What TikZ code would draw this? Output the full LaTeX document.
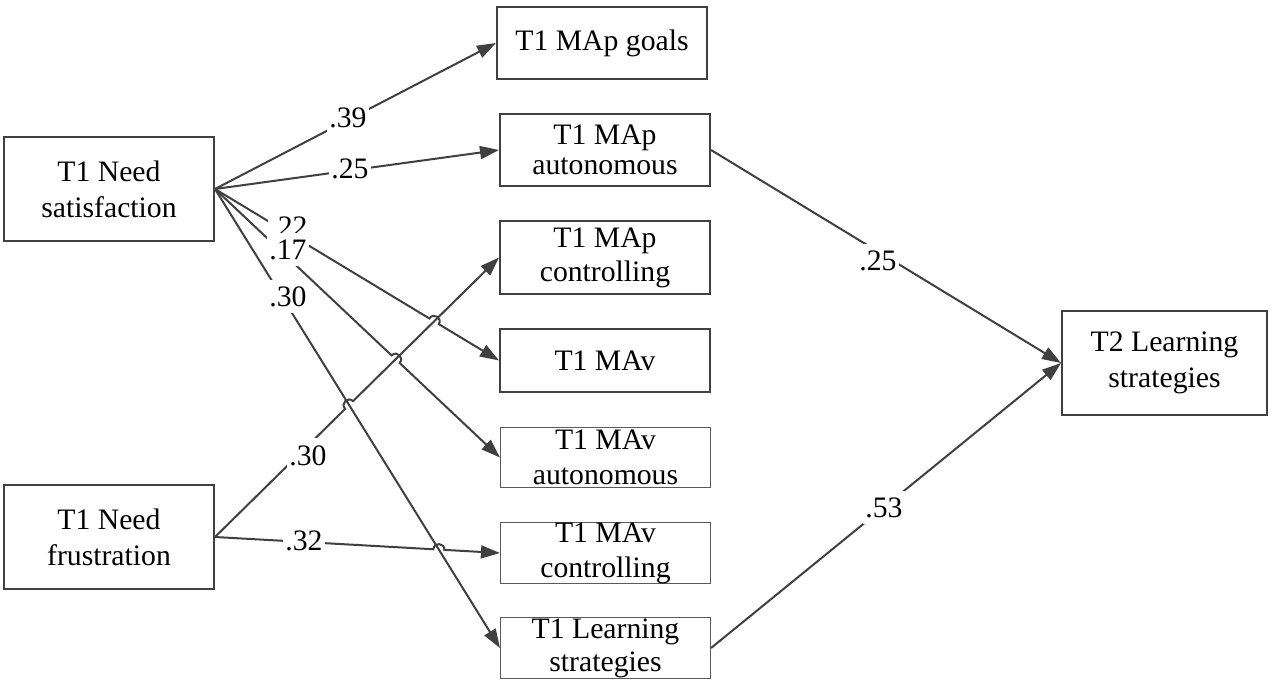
\documentclass[tikz,border=0pt]{standalone}
\usepackage{fontspec}
\setmainfont{Liberation Serif}
\usetikzlibrary{arrows.meta,calc,intersections}
\definecolor{ln}{HTML}{404040}
\definecolor{lnthin}{HTML}{5A5A5A}
\begin{document}
\begin{tikzpicture}[x=1pt,y=-1pt,
  box/.style={draw=ln, line width=2pt, fill=white, inner sep=0pt, align=center,
    font=\fontsize{29.7}{34}\selectfont},
  thinbox/.style={box, line width=1.1pt, draw=lnthin},
  arr/.style={draw=ln, line width=2pt, -{Triangle[length=19pt,width=13pt]}},
  lab/.style={fill=white, inner xsep=2pt, inner ysep=0pt, text height=26.5pt, text depth=6.5pt,
    font=\fontsize{29.7}{34}\selectfont}]
\useasboundingbox (0,0) rectangle (1272,684);

% boxes
\node[box, minimum width=210pt, minimum height=104pt, font=\fontsize{29.7}{36}\selectfont] (NS) at (109,189) {T1 Need\\satisfaction};
\node[box, minimum width=210pt, minimum height=104pt, font=\fontsize{29.7}{36}\selectfont] (NF) at (109,537) {T1 Need\\frustration};
\node[box, minimum width=210pt, minimum height=72pt] (MApG) at (602,43) {T1 MAp goals};
\node[box, minimum width=210pt, minimum height=72pt, font=\fontsize{29.7}{30}\selectfont] (MApA) at (605,150) {T1 MAp\\autonomous};
\node[box, minimum width=210pt, minimum height=73pt] (MApC) at (605,257.5) {T1 MAp\\controlling};
\node[box, minimum width=210pt, minimum height=63pt] (MAv) at (605,360.5) {T1 MAv};
\node[thinbox, minimum width=210pt, minimum height=60pt, font=\fontsize{29.7}{35}\selectfont] (MAvA) at (605.5,457.5) {T1 MAv\\autonomous};
\node[thinbox, minimum width=210pt, minimum height=61pt, font=\fontsize{29.7}{35}\selectfont] (MAvC) at (605.5,553) {T1 MAv\\controlling};
\node[thinbox, minimum width=210pt, minimum height=61pt, font=\fontsize{29.7}{33}\selectfont] (T1L) at (605.5,648) {T1 Learning\\strategies};
\node[box, minimum width=205pt, minimum height=104pt, font=\fontsize{29.7}{36}\selectfont] (T2) at (1164.5,363) {T2 Learning\\strategies};

% crossing points
\path[name path=pMAv] (NS.east) -- (MAv.west);
\path[name path=pMAvA] (NS.east) -- (MAvA.west);
\path[name path=pT1L] (NS.east) -- (T1L.west);
\path[name path=pMApC] (NF.east) -- (MApC.west);
\path[name path=pMAvC] (NF.east) -- (MAvC.west);
\path[name intersections={of=pMAv and pMApC, by=c1}];
\path[name intersections={of=pMAvA and pMApC, by=c2}];
\path[name intersections={of=pT1L and pMApC, by=c3}];
\path[name intersections={of=pT1L and pMAvC, by=c4}];

\coordinate (c1a) at ($(c1)!5.5pt!(NS.east)$);
\coordinate (c1b) at ($(c1)!5.5pt!(MAv.west)$);
\coordinate (c1p) at ($(c1a)!7.3pt!90:(c1)$);
\coordinate (c1q) at ($(c1b)!7.3pt!-90:(c1)$);

\coordinate (c2a) at ($(c2)!5.5pt!(NS.east)$);
\coordinate (c2b) at ($(c2)!5.5pt!(MAvA.west)$);
\coordinate (c2p) at ($(c2a)!7.3pt!90:(c2)$);
\coordinate (c2q) at ($(c2b)!7.3pt!-90:(c2)$);

\coordinate (c3a) at ($(c3)!5.5pt!(NF.east)$);
\coordinate (c3b) at ($(c3)!5.5pt!(MApC.west)$);
\coordinate (c3p) at ($(c3a)!7.3pt!90:(c3)$);
\coordinate (c3q) at ($(c3b)!7.3pt!-90:(c3)$);

\coordinate (c4a) at ($(c4)!5.5pt!(NF.east)$);
\coordinate (c4b) at ($(c4)!5.5pt!(MAvC.west)$);
\coordinate (c4p) at ($(c4a)!7.3pt!90:(c4)$);
\coordinate (c4q) at ($(c4b)!7.3pt!-90:(c4)$);

% connectors
\draw[arr] (NS.east) -- (MApG.west);
\draw[arr] (NS.east) -- (MApA.west);
\draw[arr] (NS.east) -- (c1a) .. controls (c1p) and (c1q) .. (c1b) -- (MAv.west);
\draw[arr] (NS.east) -- (c2a) .. controls (c2p) and (c2q) .. (c2b) -- (MAvA.west);
\draw[arr] (NS.east) -- (T1L.west);
\draw[arr] (NF.east) -- (c3a) .. controls (c3p) and (c3q) .. (c3b) -- (MApC.west);
\draw[arr] (NF.east) -- (c4a) .. controls (c4p) and (c4q) .. (c4b) -- (MAvC.west);
\draw[arr] (MApA.east) -- (T2.west);
\draw[arr] (T1L.east) -- (T2.west);

% labels
\node[lab] (l39) at (348,118) {.39};
\node[lab] (l25a) at (350,169) {.25};
\node[lab] (l22) at (289,227) {.22};
\node[lab] (l17) at (288,250) {.17};
\node[lab] (l30a) at (288,297) {.30};
\node[lab] (l30b) at (308,455) {.30};
\node[lab] (l32) at (304,540) {.32};
\node[lab] (l25b) at (878,261) {.25};
\node[lab] (l53) at (884,507) {.53};
\end{tikzpicture}
\end{document}
